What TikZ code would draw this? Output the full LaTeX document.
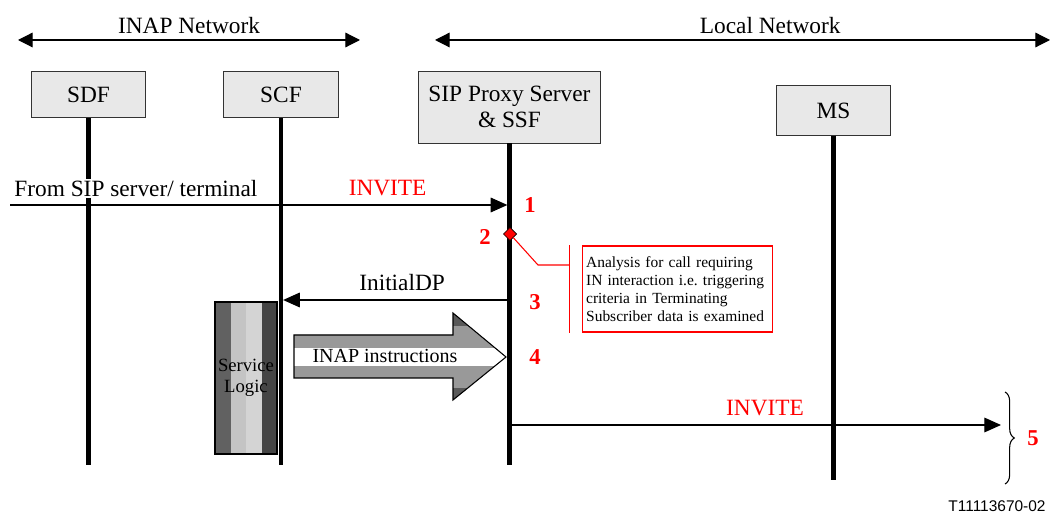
\documentclass[tikz,border=0pt]{standalone}
\usepackage{fontspec}
\setmainfont{Liberation Serif}
\setsansfont{Liberation Sans}
\usetikzlibrary{arrows.meta,positioning,shapes,decorations.pathreplacing}

\begin{document}
\begin{tikzpicture}[x=0.75pt,y=-0.75pt,
    font=\rmfamily\fontsize{17.5}{20}\selectfont,
    ent/.style={draw=black!80,line width=0.6pt,fill=black!9,minimum width=86pt,align=center},
    life/.style={line width=3.6pt},
    msg/.style={line width=0.9pt,-{Triangle[length=12.5pt,width=11pt]},shorten >=1.6pt},
    netarr/.style={line width=0.9pt,{Triangle[length=11pt,width=11pt]}-{Triangle[length=11pt,width=11pt]}},
    num/.style={text=red,font=\rmfamily\bfseries\fontsize{17}{17}\selectfont},
    red msg/.style={text=red}]
  \useasboundingbox (0,0) rectangle (1050,513);
  % networks
  \coordinate (inapl) at (18,40); \coordinate (inapr) at (360,40);
  \coordinate (locl) at (435,40); \coordinate (locr) at (1050,40);
  \draw[netarr] (inapl) -- (inapr) node[midway,above=1pt]{INAP Network};
  \draw[netarr] (locl) -- (locr) node[pos=0.545,above=1pt]{Local Network};
  % entities
  \node[ent,minimum height=35pt] (sdf) at (88.5,94.5) {SDF};
  \node[ent,minimum height=35pt] (scf) at (281,94.5) {SCF};
  \node[ent,minimum width=137pt,minimum height=54pt] (sip) at (509.5,107) {SIP Proxy Server\\\& SSF};
  \node[ent,minimum height=37pt] (ms) at (833.5,110.5) {MS};
  \coordinate (bot) at (0,465); \coordinate (msbot) at (0,480);
  \foreach \n in {sdf,scf,sip} \draw[life] (\n.south) -- (\n.south |- bot);
  \draw[life] (ms.south) -- (ms.south |- msbot);
  % 1
  \coordinate (src) at (10,205);
  \draw[msg] (src) -- (sip.south |- src)
    node[pos=0.252,above=5pt,fill=white,inner sep=1pt]{From SIP server/ terminal}
    node[pos=0.756,above=3pt,red msg]{INVITE};
  \node[num] (n1) at (530,205) {1};
  % 2
  \node[diamond,draw=black,fill=red,inner sep=0pt,minimum size=10pt,line width=0.5pt] (dia) at (510,234) {};
  \node[num] (n2) at (485,237) {2};
  \node[draw=red,line width=0.8pt,text width=137pt,inner xsep=2.5pt,minimum height=64.5pt,align=left,
    font=\rmfamily\fontsize{11.6}{13.5}\selectfont] (note) at (677.5,289)
    {Analysis for call requiring\\IN interaction i.e.\ triggering\\criteria in Terminating\\Subscriber data is examined};
  \coordinate (hook) at (538,265);
  \draw[red,line width=0.8pt] (dia) -- (hook) -- ([xshift=-9.75pt]note.west |- hook);
  \draw[red,line width=0.8pt] ([xshift=-9.75pt]note.north west) -- ([xshift=-9.75pt]note.south west);
  % 3
  \coordinate (idp) at (0,300);
  \draw[msg] (sip.south |- idp) -- (scf.south |- idp) node[pos=0.47,above=3pt]{InitialDP};
  \node[num] (n3) at (535,302) {3};
  % service logic
  \node[draw,line width=0.8pt,minimum width=46.5pt,minimum height=114pt,inner sep=0pt,align=center,
    font=\rmfamily\fontsize{14}{16}\selectfont,
    path picture={
      \fill[black!62] (path picture bounding box.south west) rectangle ++(12pt,114pt);
      \fill[black!23] ([xshift=12pt]path picture bounding box.south west) rectangle ++(11.25pt,114pt);
      \fill[black!17] ([xshift=23.25pt]path picture bounding box.south west) rectangle ++(12pt,114pt);
      \fill[black!73] ([xshift=35.25pt]path picture bounding box.south west) rectangle ++(11.25pt,114pt);
    }] (logic) at (246,378) {Service\\Logic};
  % INAP instructions arrow
  \begin{scope}
    \clip (294,335) -- (453,335) -- (453,313) -- (506,357) -- (453,400) -- (453,378) -- (294,378) -- cycle;
    \fill[black!65] (290,310) rectangle (510,404);
    \fill[black!40] (290,326) rectangle (510,388);
    \fill[white] (290,348) rectangle (510,366);
  \end{scope}
  \draw[line width=0.8pt] (294,335) -- (453,335) -- (453,313) -- (506,357) -- (453,400) -- (453,378) -- (294,378) -- cycle;
  \node[font=\rmfamily\fontsize{15}{17}\selectfont] (inap) at (385,356) {INAP instructions};
  \node[num] (n4) at (535,357) {4};
  % 5
  \coordinate (inv) at (0,425); \coordinate (dst) at (1001,425);
  \draw[msg,shorten >=0pt] (sip.south |- inv) -- (dst) node[pos=0.52,above=3pt,red msg]{INVITE};
  \coordinate (b1) at (1005,392); \coordinate (b2) at (1005,484);
  \draw[line width=0.8pt,decorate,decoration={brace,amplitude=7pt}] (b1) -- (b2);
  \node[num] (n5) at (1033,438) {5};
  \node[font=\sffamily\fontsize{11.6}{13}\selectfont] (tag) at (997,506) {T11113670-02};
\end{tikzpicture}
\end{document}
